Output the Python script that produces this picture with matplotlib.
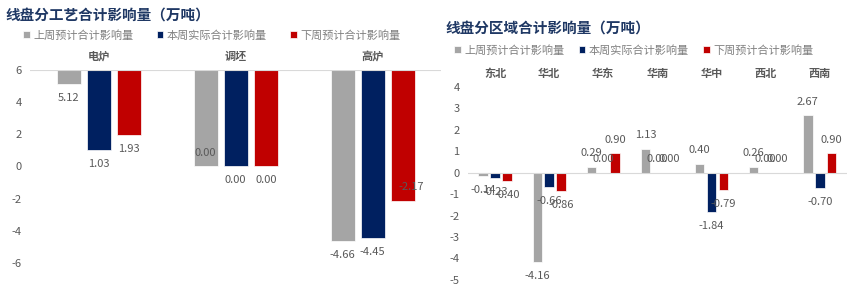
import numpy as np
import matplotlib.pyplot as plt
from matplotlib.transforms import offset_copy

plt.rcParams['font.family'] = ['Noto Sans CJK SC', 'DejaVu Sans']
plt.rcParams['axes.unicode_minus'] = False

#%% данные
series = ['上周预计合计影响量', '本周实际合计影响量', '下周预计合计影响量']
colors = ['#A5A5A5', '#002060', '#C00000']

proc_cats = ['电炉', '调坯', '高炉']
proc_last = [5.12, 0.00, -4.66]
proc_this = [1.03, 0.00, -4.45]
proc_next = [1.93, 0.00, -2.17]

reg_cats = ['东北', '华北', '华东', '华南', '华中', '西北', '西南']
reg_last = [-0.14, -4.16, 0.29, 1.13, 0.40, 0.26, 2.67]
reg_this = [-0.23, -0.66, 0.00, 0.00, -1.84, 0.00, -0.70]
reg_next = [-0.40, -0.86, 0.90, 0.00, -0.79, 0.00, 0.90]

#%%
txt_c = '#595959'
title_c = '#1F3864'
width = 0.175
shift = 0.22

fig = plt.figure(figsize=(8.65, 2.88), dpi=100)
ax1 = fig.add_axes([0.035, 0.087, 0.475, 0.670])
ax2 = fig.add_axes([0.541, 0.028, 0.438, 0.670])


def style(ax, cats):
    for s in ax.spines.values():
        s.set_visible(False)
    ax.xaxis.tick_top()
    ax.set_xticks(np.arange(len(cats)))
    ax.set_xticklabels(cats, fontsize=8, fontweight='bold', color=txt_c)
    ax.tick_params(axis='x', length=0, pad=5)
    ax.tick_params(axis='y', length=0, labelsize=8, labelcolor=txt_c, pad=6)
    ax.set_xlim(-0.5, len(cats) - 0.5)


# левый: ось пересекает на максимуме (6), столбцы растут вниз
base = 6
x = np.arange(len(proc_cats))
handles = []
for i, vals in enumerate([proc_last, proc_this, proc_next]):
    vals = np.array(vals)
    b = ax1.bar(x + (i - 1) * shift, vals - base, bottom=base, width=width,
                color=colors[i], edgecolor='white', linewidth=0.5)
    handles.append(b)
    for j, v in enumerate(vals):
        dx, dy = 0, -10
        if i == 0 and j == 1:
            dy = 10
        if i == 2 and j == 2:
            dx, dy = 6, 10
        ax1.annotate(f'{v:.2f}', (x[j] + (i - 1) * shift, v), xytext=(dx, dy),
                     textcoords='offset points', ha='center', va='center',
                     fontsize=8, color=txt_c)
ax1.axhline(base, color='#D9D9D9', lw=0.8)
ax1.set_ylim(-6, 6)
ax1.set_yticks(np.arange(-6, 7, 2))
style(ax1, proc_cats)

# правый
x = np.arange(len(reg_cats))
for i, vals in enumerate([reg_last, reg_this, reg_next]):
    ax2.bar(x + (i - 1) * shift, vals, width=width, color=colors[i],
            edgecolor='white', linewidth=0.5)
    for j, v in enumerate(vals):
        dy = 10 if v >= 0 else -10
        ax2.annotate(f'{v:.2f}', (x[j] + (i - 1) * shift, v), xytext=(0, dy),
                     textcoords='offset points', ha='center', va='center',
                     fontsize=8, color=txt_c)
ax2.axhline(0, color='#D9D9D9', lw=0.8)
ax2.set_ylim(-5, 4)
ax2.set_yticks(np.arange(-5, 5, 1))
style(ax2, reg_cats)

fig.text(0.006, 0.948, '线盘分工艺合计影响量（万吨）', fontsize=10.5, fontweight='bold',
         color=title_c, va='center')
fig.text(0.515, 0.903, '线盘分区域合计影响量（万吨）', fontsize=10.5, fontweight='bold',
         color=title_c, va='center')

leg_kw = dict(ncol=3, frameon=False, fontsize=8, handlelength=0.6, handleheight=0.6,
              handletextpad=0.3, labelcolor='#808080', borderaxespad=0, borderpad=0)
fig.legend(handles, series, loc='center left', bbox_to_anchor=(0.027, 0.878),
           columnspacing=2.1, **leg_kw)
fig.legend(handles, series, loc='center left', bbox_to_anchor=(0.525, 0.826),
           columnspacing=1.3, **leg_kw)

fig.savefig('out.png', dpi=100)
